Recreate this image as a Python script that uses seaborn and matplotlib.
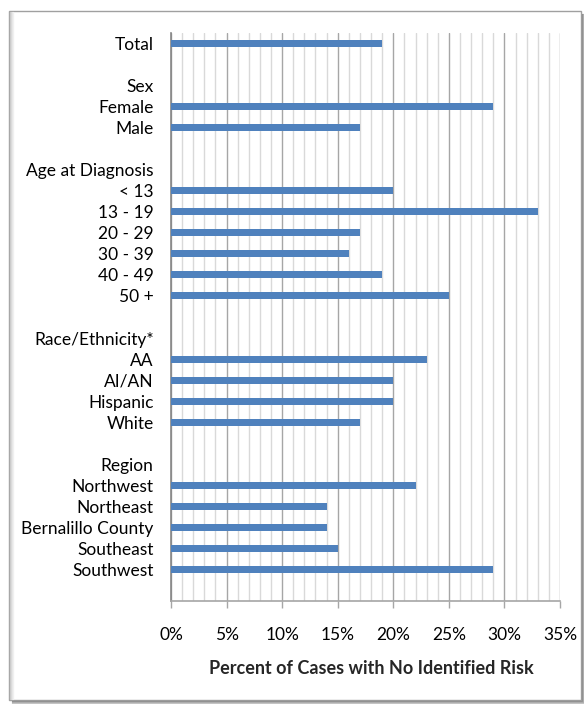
import matplotlib
matplotlib.use("Agg")
import matplotlib.pyplot as plt
from matplotlib.patches import Rectangle
from matplotlib.lines import Line2D
from matplotlib.ticker import MultipleLocator, PercentFormatter
import numpy as np
import pandas as pd
import seaborn as sns

# Row labels (headers and spacer rows have no value)
labels = ["Total", " ", "Sex", "Female", "Male", "  ",
          "Age at Diagnosis", "< 13", "13 - 19", "20 - 29", "30 - 39", "40 - 49", "50 +", "   ",
          "Race/Ethnicity*", "AA", "AI/AN", "Hispanic", "White", "    ",
          "Region", "Northwest", "Northeast", "Bernalillo County", "Southeast", "Southwest", "     "]
values = [19, None, None, 29, 17, None,
          None, 20, 33, 17, 16, 19, 25, None,
          None, 23, 20, 20, 17, None,
          None, 22, 14, 14, 15, 29, None]

df = pd.DataFrame({"group": labels, "pct": values})

sns.set_theme(style="white")
plt.rcParams["font.family"] = ["Lato", "DejaVu Sans"]

fig = plt.figure(figsize=(5.84, 7.04), dpi=100)
ax = fig.add_axes([171 / 584, 1 - 601 / 704, (560 - 171) / 584, (601 - 33) / 704])

sns.barplot(data=df.dropna(), x="pct", y="group", order=labels, orient="h",
            color="#4F81BD", saturation=1, width=0.33, linewidth=0, ax=ax, zorder=3)

ax.set_xlim(0, 35)
ax.set_ylim(len(labels) - 0.5, -0.5)
ax.xaxis.set_major_locator(MultipleLocator(5))
ax.xaxis.set_minor_locator(MultipleLocator(1))
ax.xaxis.set_major_formatter(PercentFormatter(decimals=0))
ax.grid(which="minor", axis="x", color="#D9D9D9", linewidth=1, zorder=0)
ax.grid(which="major", axis="x", color="#A6A6A6", linewidth=1, zorder=0)
ax.set_axisbelow(True)

for side in ["top", "right"]:
    ax.spines[side].set_visible(False)
ax.spines["left"].set_color("#868686")
ax.spines["bottom"].set_color("#A6A6A6")
ax.spines["left"].set_linewidth(1.2)
ax.spines["bottom"].set_linewidth(1.2)

ax.tick_params(axis="x", which="major", bottom=True, length=5, width=1, color="#A6A6A6",
               labelsize=12.5, pad=14, labelcolor="black")
ax.tick_params(axis="x", which="minor", bottom=False)
ax.tick_params(axis="y", left=False, labelsize=12.5, pad=6.5, labelcolor="black")

ax.set_ylabel("")
ax.set_xlabel("Percent of Cases with No Identified Risk", fontsize=13, fontweight="bold")
ax.xaxis.set_label_coords((371 - 171) / 389, (601 - 660) / 568)

# Outer frame with soft shadow
fig.patches.append(Rectangle((9 / 584, 1 - 700 / 704), 572 / 584, 689 / 704,
                             transform=fig.transFigure, fill=False,
                             edgecolor="#A0A0A0", linewidth=1))
for i, c in enumerate(["#C8C8C8", "#D8D8D8", "#E6E6E6", "#F0F0F0"]):
    x = (10 + i) / 584
    fig.lines.append(Line2D([x, x], [1 - 699 / 704, 1 - 12 / 704], transform=fig.transFigure,
                            color=c, linewidth=1))
for i, c in enumerate(["#8C8C8C", "#A8A8A8", "#C4C4C4"]):
    x = (582 + i) / 584
    fig.lines.append(Line2D([x, x], [0, 1 - 14 / 704], transform=fig.transFigure,
                            color=c, linewidth=1))
    y = 1 - (701 + i) / 704
    fig.lines.append(Line2D([12 / 584, 1], [y, y], transform=fig.transFigure,
                            color=c, linewidth=1))

fig.savefig("out.png", dpi=100)
